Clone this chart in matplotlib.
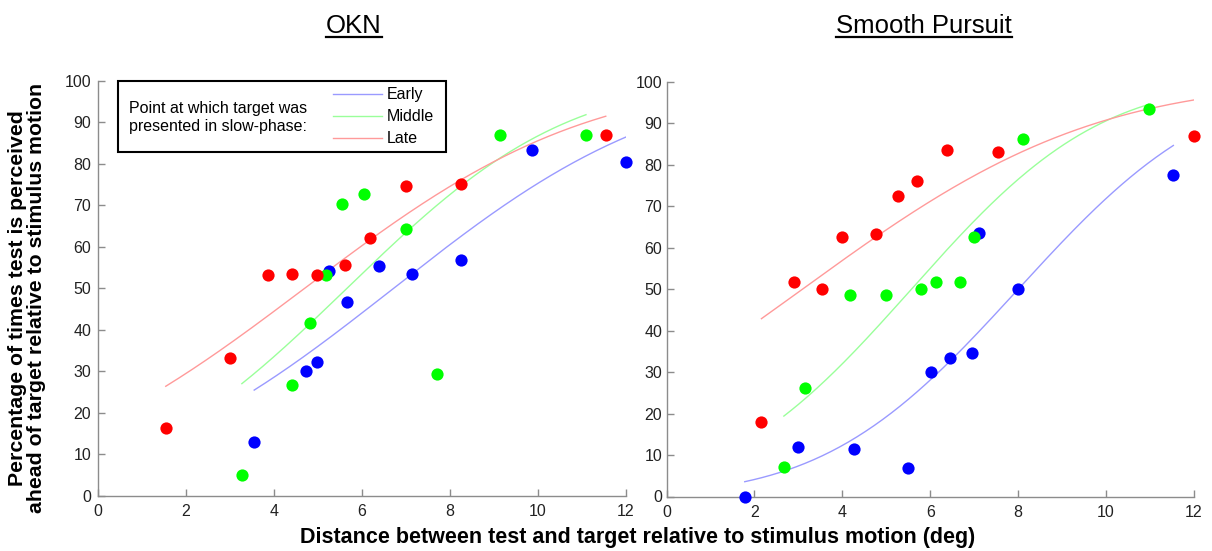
import math
import numpy as np
import matplotlib
matplotlib.use("Agg")
import matplotlib.pyplot as plt
from matplotlib.lines import Line2D
from matplotlib.patches import Rectangle

plt.rcParams['font.family'] = ['Liberation Sans', 'DejaVu Sans']

# ---- OKN data (distance in deg, % perceived ahead) ----
okn_early_x = [3.55, 4.73, 4.98, 5.26, 5.67, 6.39, 7.14, 8.25, 9.87, 11.99]
okn_early_y = [12.9, 30.0, 32.3, 54.1, 46.7, 55.3, 53.5, 56.7, 83.4, 80.3]
okn_middle_x = [3.27, 4.40, 4.82, 5.18, 5.54, 6.05, 7.00, 7.70, 9.14, 11.09]
okn_middle_y = [5.0, 26.7, 41.5, 53.3, 70.2, 72.6, 64.3, 29.3, 87.0, 87.0]
okn_late_x = [1.54, 3.00, 3.86, 4.40, 4.98, 5.61, 6.18, 7.00, 8.25, 11.54]
okn_late_y = [16.4, 33.2, 53.1, 53.5, 53.1, 55.5, 62.2, 74.6, 75.2, 87.0]

# ---- Smooth pursuit data ----
sp_early_x = [1.78, 3.00, 4.26, 5.50, 6.02, 6.46, 6.94, 7.11, 8.00, 11.53]
sp_early_y = [0.0, 11.9, 11.5, 6.9, 30.1, 33.3, 34.5, 63.5, 50.1, 77.6]
sp_middle_x = [2.67, 3.16, 4.17, 4.99, 5.78, 6.14, 6.67, 7.00, 8.11, 10.97]
sp_middle_y = [7.2, 26.1, 48.6, 48.6, 50.1, 51.8, 51.8, 62.7, 86.2, 93.5]
sp_late_x = [2.16, 2.90, 3.53, 4.00, 4.77, 5.26, 5.70, 6.39, 7.53, 12.00]
sp_late_y = [18.0, 51.8, 50.0, 62.7, 63.3, 72.6, 76.2, 83.5, 83.2, 87.0]

# psychometric fit parameters (cumulative gaussian: mean, sd)
okn_fit = {'Early': (6.72, 4.8), 'Middle': (5.66, 3.9), 'Late': (4.70, 5.0)}
sp_fit = {'Early': (8.00, 3.45), 'Middle': (5.57, 3.36), 'Late': (3.09, 5.2)}

dot_colors = {'Early': '#0000ff', 'Middle': '#00ff00', 'Late': '#ff0000'}
line_colors = {'Early': '#9a9aff', 'Middle': '#9aff9a', 'Late': '#ff9a9a'}
SPINE = '#8c8c8c'


def cum_gauss(x, mu, sd):
    return np.array([50.0 * (1 + math.erf((v - mu) / (sd * math.sqrt(2)))) for v in x])


def draw_panel(ax, series, fits):
    for name in ['Early', 'Middle', 'Late']:
        xs, ys = series[name]
        mu, sd = fits[name]
        xx = np.linspace(min(xs), max(xs), 200)
        ax.plot(xx, cum_gauss(xx, mu, sd), color=line_colors[name], lw=1.0, zorder=2)
    for name in ['Early', 'Middle', 'Late']:
        xs, ys = series[name]
        ax.plot(xs, ys, 'o', color=dot_colors[name], ms=8.8, mew=0, zorder=3, clip_on=False)
    ax.set_xlim(0, 12)
    ax.set_ylim(0, 100)
    ax.set_xticks(range(0, 13, 2))
    ax.set_yticks(range(0, 101, 10))
    for s in ['top', 'right']:
        ax.spines[s].set_visible(False)
    for s in ['left', 'bottom']:
        ax.spines[s].set_color(SPINE)
        ax.spines[s].set_linewidth(1.0)
    ax.tick_params(direction='in', length=5, width=1, color=SPINE,
                   labelsize=11.5, labelcolor='#222222')
    ax.tick_params(axis='x', pad=6)


fig = plt.figure(figsize=(12.12, 5.51), dpi=100)
W, H = 1212.0, 551.0

ax1 = fig.add_axes([98 / W, 1 - 495.7 / H, 528 / W, 415 / H])
ax2 = fig.add_axes([666.5 / W, 1 - 496.5 / H, 527.5 / W, 414.5 / H])

draw_panel(ax1, {'Early': (okn_early_x, okn_early_y),
                 'Middle': (okn_middle_x, okn_middle_y),
                 'Late': (okn_late_x, okn_late_y)}, okn_fit)
draw_panel(ax2, {'Early': (sp_early_x, sp_early_y),
                 'Middle': (sp_middle_x, sp_middle_y),
                 'Late': (sp_late_x, sp_late_y)}, sp_fit)
ax1.tick_params(axis='y', pad=5)
ax2.tick_params(axis='y', pad=3)

# legend box in the OKN panel
ax1.add_patch(Rectangle((0.0384, 0.829), 0.62, 0.171, transform=ax1.transAxes,
                        facecolor='white', edgecolor='black', lw=1.5, zorder=5,
                        clip_on=False))
ax1.text(0.059, 0.911, 'Point at which target was\npresented in slow-phase:',
         transform=ax1.transAxes, fontsize=11.5, va='center', ha='left',
         linespacing=1.3, zorder=6)
handles = [Line2D([], [], color=line_colors[n], lw=1.0) for n in ['Early', 'Middle', 'Late']]
leg = ax1.legend(handles, ['Early', 'Middle', 'Late'], loc='center left',
                 bbox_to_anchor=(0.445, 0.913), frameon=False, fontsize=11.5,
                 handlelength=3.05, handletextpad=0.3, labelspacing=0.45,
                 borderpad=0, borderaxespad=0)
leg.set_zorder(6)

# panel titles (underlined)
titles = [('OKN', 354 / W), ('Smooth Pursuit', 924 / W)]
title_texts = []
for label, xc in titles:
    t = fig.text(xc, 1 - 33 / H, label, ha='center', va='baseline', fontsize=18.5)
    title_texts.append(t)

fig.text(638 / W, 1 - 537 / H,
         'Distance between test and target relative to stimulus motion (deg)',
         ha='center', va='center', fontsize=15.5, fontweight='bold')
fig.text(27 / W, 1 - 298 / H,
         'Percentage of times test is perceived\nahead of target relative to stimulus motion',
         ha='center', va='center', rotation=90, fontsize=15.3, fontweight='bold',
         linespacing=1.0)

fig.canvas.draw()
renderer = fig.canvas.get_renderer()
for t in title_texts:
    bb = t.get_window_extent(renderer)
    fig.add_artist(Line2D([bb.x0 / W, bb.x1 / W], [1 - 36.5 / H, 1 - 36.5 / H],
                          transform=fig.transFigure, color='black', lw=1.6))

fig.savefig('out.png', dpi=100, facecolor='white')
